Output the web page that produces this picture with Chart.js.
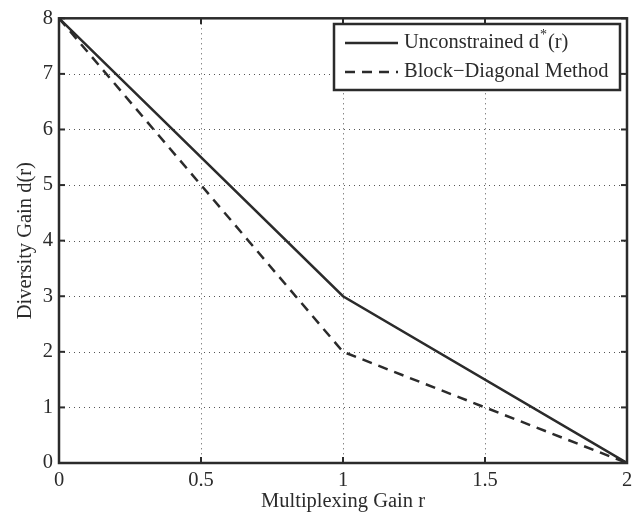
<!DOCTYPE html>
<html><head><meta charset="utf-8">
<script src="https://cdn.jsdelivr.net/npm/chart.js@4/dist/chart.umd.min.js"></script>
<style>html,body{margin:0;padding:0;background:#fff}#wrap{width:641px;height:515px}</style>
</head><body><div id="wrap"><canvas id="c" width="641" height="515"></canvas></div>
<script>
const rValues = [0, 1, 2];
const unconstrained = [8, 3, 0];
const blockDiagonal = [8, 2, 0];
const xTicks = [0, 0.5, 1, 1.5, 2];
const yTicks = [0, 1, 2, 3, 4, 5, 6, 7, 8];
const seriesNames = ['Unconstrained d', 'Block\u2212Diagonal Method'];

const FONT = '"Liberation Serif", "Times New Roman", serif';
const INK = '#2b2b2b';
const FS = 20.5;

const framePlugin = {
  id: 'frame',
  beforeDatasetsDraw(chart) {
    const {ctx, chartArea: a, scales: {x, y}} = chart;
    ctx.save();
    ctx.strokeStyle = '#555';
    ctx.lineWidth = 1;
    ctx.setLineDash([1, 4]);
    xTicks.forEach(v => {
      if (v === xTicks[0] || v === xTicks[xTicks.length - 1]) return;
      const px = Math.round(x.getPixelForValue(v)) + 0.5;
      ctx.beginPath(); ctx.moveTo(px, a.top); ctx.lineTo(px, a.bottom); ctx.stroke();
    });
    yTicks.forEach(v => {
      if (v === yTicks[0] || v === yTicks[yTicks.length - 1]) return;
      const py = Math.round(y.getPixelForValue(v)) + 0.5;
      ctx.beginPath(); ctx.moveTo(a.left, py); ctx.lineTo(a.right, py); ctx.stroke();
    });
    ctx.restore();
  },
  afterDatasetsDraw(chart) {
    const {ctx, chartArea: a, scales: {x, y}} = chart;
    ctx.save();
    ctx.strokeStyle = INK;
    ctx.lineWidth = 2.5;
    ctx.strokeRect(a.left, a.top, a.right - a.left, a.bottom - a.top);
    ctx.lineWidth = 2;
    const tl = 6;
    xTicks.forEach(v => {
      const px = x.getPixelForValue(v);
      ctx.beginPath(); ctx.moveTo(px, a.bottom); ctx.lineTo(px, a.bottom - tl); ctx.stroke();
      ctx.beginPath(); ctx.moveTo(px, a.top); ctx.lineTo(px, a.top + tl); ctx.stroke();
    });
    yTicks.forEach(v => {
      const py = y.getPixelForValue(v);
      ctx.beginPath(); ctx.moveTo(a.left, py); ctx.lineTo(a.left + tl, py); ctx.stroke();
      ctx.beginPath(); ctx.moveTo(a.right, py); ctx.lineTo(a.right - tl, py); ctx.stroke();
    });
    // legend
    const lx = 334, ly = 24, lw = 286, lh = 66;
    ctx.fillStyle = '#fff';
    ctx.fillRect(lx, ly, lw, lh);
    ctx.lineWidth = 2.5;
    ctx.strokeRect(lx, ly, lw, lh);
    const rows = [ly + 19, ly + 48];
    ctx.lineWidth = 2.5;
    ctx.setLineDash([]);
    ctx.beginPath(); ctx.moveTo(lx + 11, rows[0]); ctx.lineTo(lx + 64, rows[0]); ctx.stroke();
    ctx.setLineDash([10, 7]);
    ctx.beginPath(); ctx.moveTo(lx + 11, rows[1]); ctx.lineTo(lx + 64, rows[1]); ctx.stroke();
    ctx.setLineDash([]);
    ctx.fillStyle = INK;
    ctx.font = FS + 'px ' + FONT;
    ctx.textBaseline = 'middle';
    ctx.textAlign = 'left';
    const tx = lx + 70;
    ctx.fillText(seriesNames[0], tx, rows[0]);
    let w = ctx.measureText(seriesNames[0]).width;
    ctx.font = '14px ' + FONT;
    ctx.fillText('*', tx + w + 1, rows[0] - 8);
    const ws = ctx.measureText('*').width;
    ctx.font = FS + 'px ' + FONT;
    ctx.fillText('(r)', tx + w + ws + 2, rows[0]);
    ctx.fillText(seriesNames[1], tx, rows[1]);
    ctx.restore();
  }
};

new Chart(document.getElementById('c'), {
  type: 'line',
  data: {
    datasets: [
      {label: seriesNames[0], data: rValues.map((r, i) => ({x: r, y: unconstrained[i]})),
       borderColor: INK, borderWidth: 2.5, pointRadius: 0, fill: false, tension: 0},
      {label: seriesNames[1], data: rValues.map((r, i) => ({x: r, y: blockDiagonal[i]})),
       borderColor: INK, borderWidth: 2.5, borderDash: [10, 7], pointRadius: 0, fill: false, tension: 0}
    ]
  },
  options: {
    responsive: false,
    animation: false,
    devicePixelRatio: 1,
    layout: {padding: {top: 14, right: 14, left: 0, bottom: 0}},
    plugins: {legend: {display: false}, tooltip: {enabled: false}},
    scales: {
      x: {
        type: 'linear', min: 0, max: 2,
        afterBuildTicks: s => { s.ticks = xTicks.map(v => ({value: v})); },
        afterFit: s => { s.height = 52; },
        grid: {display: false, drawTicks: false},
        border: {display: false},
        ticks: {color: INK, font: {family: FONT, size: FS}, padding: 5, maxRotation: 0,
                callback: v => String(v)},
        title: {display: true, text: 'Multiplexing Gain r', color: INK,
                font: {family: FONT, size: FS}, padding: {top: 0, bottom: 1}}
      },
      y: {
        type: 'linear', min: 0, max: 8,
        afterBuildTicks: s => { s.ticks = yTicks.map(v => ({value: v})); },
        afterFit: s => { s.width = 59; },
        grid: {display: false, drawTicks: false},
        border: {display: false},
        ticks: {color: INK, font: {family: FONT, size: FS}, padding: 6,
                callback: v => String(v)},
        title: {display: true, text: 'Diversity Gain d(r)', color: INK,
                font: {family: FONT, size: FS}, padding: {top: 13, bottom: 0}}
      }
    }
  },
  plugins: [framePlugin]
});
</script>
</body></html>
